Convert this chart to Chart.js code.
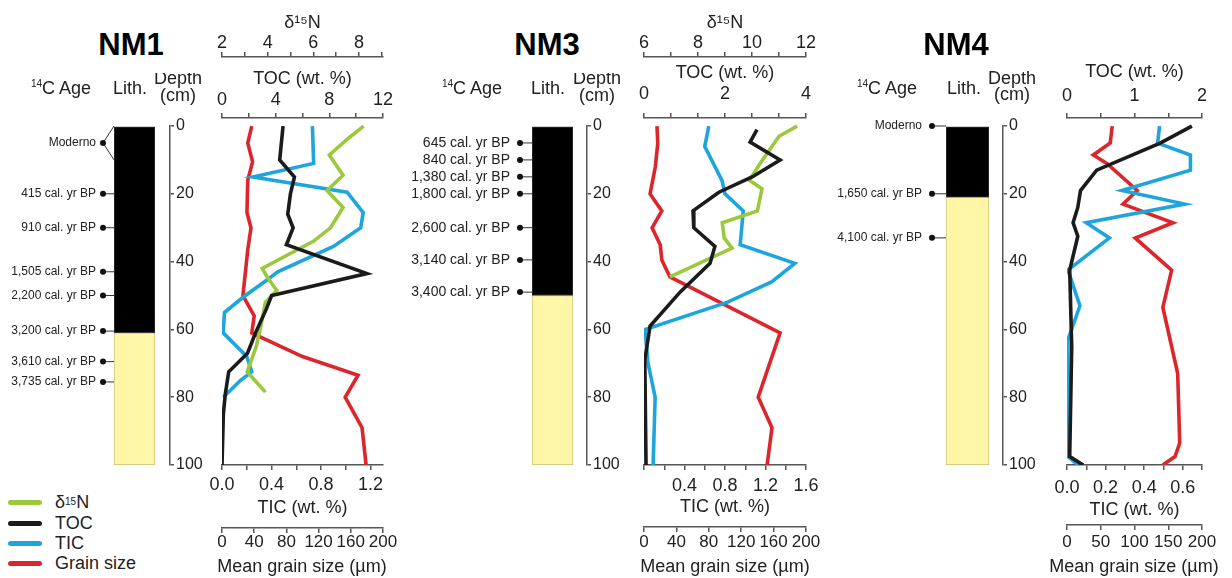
<!DOCTYPE html>
<html>
<head>
<meta charset="utf-8">
<title>NM1, NM3, NM4 sediment cores</title>
<script src="https://cdn.jsdelivr.net/npm/chart.js@4.4.1/dist/chart.umd.min.js"></script>
<style>
  html, body { margin: 0; padding: 0; background: #fff; }
  body { position: relative; width: 1232px; height: 578px; overflow: hidden;
         font-family: "Liberation Sans", Arial, sans-serif; color: #222; }
  canvas { position: absolute; top: 0; z-index: 1; }
  .t { position: absolute; transform: translate(-50%, -50%); white-space: nowrap; font-size: 18px; line-height: 1; z-index: 2; }
  .t sup, .key sup { font-size: 10px; vertical-align: 7px; line-height: 0; }
  .core { font-weight: bold; font-size: 31px; z-index: 4; color: #000; }
  .depth { text-align: center; line-height: 17px; }
  .mask { position: absolute; top: 0; height: 73px; background: #fff; z-index: 3; }
  .key { position: absolute; left: 8px; transform: translateY(-50%); font-size: 18px; line-height: 1;
         display: flex; align-items: center; white-space: nowrap; }
  .key i { display: inline-block; width: 34px; height: 5px; border-radius: 2.5px; margin-right: 13px; }
</style>
</head>
<body>

<div class="mask" style="left:70px;width:138px"></div>
<div class="mask" style="left:490px;width:138px"></div>

<div class="t core" style="left:131px;top:44px">NM1</div>
<div class="t core" style="left:547px;top:44px">NM3</div>
<div class="t core" style="left:956px;top:44px">NM4</div>

<div class="t" style="left:61px;top:88px"><sup>14</sup>C Age</div>
<div class="t" style="left:130px;top:88px">Lith.</div>
<div class="t depth" style="left:178px;top:87px">Depth<br>(cm)</div>

<div class="t" style="left:472px;top:88px"><sup>14</sup>C Age</div>
<div class="t" style="left:548px;top:88px">Lith.</div>
<div class="t depth" style="left:597px;top:87px">Depth<br>(cm)</div>

<div class="t" style="left:887px;top:88px"><sup>14</sup>C Age</div>
<div class="t" style="left:964px;top:88px">Lith.</div>
<div class="t depth" style="left:1012px;top:86px;line-height:16px">Depth<br>(cm)</div>

<div class="t" style="left:302px;top:566px">Mean grain size (µm)</div>
<div class="t" style="left:725px;top:566px">Mean grain size (µm)</div>
<div class="t" style="left:1134px;top:566px">Mean grain size (µm)</div>

<div class="key" style="top:502px"><i style="background:#9bc83c"></i>δ<sup>15</sup>N</div>
<div class="key" style="top:523px"><i style="background:#1b1b1b"></i>TOC</div>
<div class="key" style="top:543px"><i style="background:#1ea5dc"></i>TIC</div>
<div class="key" style="top:563px"><i style="background:#dc262c"></i>Grain size</div>

<script>
// ---------- NM1 ----------
const NM1_AGE_DEPTH = [5, 20, 30, 43, 50, 60.5, 69.5, 75.5];
const NM1_AGE_LABEL = ['Moderno', '415 cal. yr BP', '910 cal. yr BP', '1,505 cal. yr BP',
  '2,200 cal. yr BP', '3,200 cal. yr BP', '3,610 cal. yr BP', '3,735 cal. yr BP'];
const NM1_AGE_SPAN = [[0, 10], null, null, null, null, null, null, null];
const NM1_UNIT_TOP = [0, 61];
const NM1_UNIT_BASE = [61, 100];
const NM1_UNIT_KIND = ['organic', 'sand'];

const NM1_D15N_DEPTH = [0, 3.5, 8.5, 14.5, 19, 24, 30, 34, 42, 44.5, 48.5, 52, 59, 65, 72.5, 78.5];
const NM1_D15N = [8.2, 7.55, 6.7, 7.3, 6.6, 7.3, 6.75, 6.0, 3.76, 3.98, 4.4, 3.9, 3.7, 3.5, 3.1, 3.9];
const NM1_TOC_DEPTH = [0, 10, 15, 20, 26, 30, 35, 43.5, 50, 54, 61, 67, 72.5, 79, 85, 100];
const NM1_TOC = [4.55, 4.3, 5.4, 5.1, 4.9, 5.3, 4.8, 10.8, 3.7, 3.3, 2.5, 1.9, 0.5, 0.25, 0.1, 0];
const NM1_TIC_DEPTH = [0, 11, 15, 19.5, 25.5, 30, 35.5, 43, 45.5, 50.5, 55, 61, 68, 72.5, 75, 80];
const NM1_TIC = [0.73, 0.74, 0.25, 1.01, 1.14, 1.12, 0.9, 0.45, 0.36, 0.17, 0.02, 0.01, 0.2, 0.24, 0.15, 0.01];
const NM1_GRAIN_DEPTH = [0, 5, 10.5, 16, 25.5, 30, 36.5, 50, 56, 61, 62.5, 68, 73.5, 80, 89, 100];
const NM1_GRAIN = [37, 32, 38, 32, 31, 36, 32, 26, 40, 37, 50, 100, 169, 153, 174, 179];

const NM1_D15N_TICKS = ['2', '', '4', '', '6', '', '8', ''];
const NM1_TOC_TICKS = ['0', '', '4', '', '8', '', '12'];
const NM1_TIC_TICKS = ['0.0', '', '0.4', '', '0.8', '', '1.2'];
const NM1_GRAIN_TICKS = ['0', '40', '80', '120', '160', '200'];

// ---------- NM3 ----------
const NM3_AGE_DEPTH = [5, 10, 15, 20, 30, 39.5, 49];
const NM3_AGE_LABEL = ['645 cal. yr BP', '840 cal. yr BP', '1,380 cal. yr BP', '1,800 cal. yr BP',
  '2,600 cal. yr BP', '3,140 cal. yr BP', '3,400 cal. yr BP'];
const NM3_AGE_SPAN = [null, null, null, null, null, null, null];
const NM3_UNIT_TOP = [0, 50];
const NM3_UNIT_BASE = [50, 100];
const NM3_UNIT_KIND = ['organic', 'sand'];

const NM3_D15N_DEPTH = [0, 3, 11, 16, 18.5, 25, 28.5, 33, 36, 44.5];
const NM3_D15N = [11.67, 11.0, 10.3, 9.9, 10.37, 10.2, 8.9, 8.97, 9.26, 6.96];
const NM3_TOC_DEPTH = [1, 4.7, 10, 15, 19.5, 25, 30, 35.5, 40.5, 49, 59, 69, 100];
const NM3_TOC = [2.79, 2.62, 3.36, 2.67, 1.85, 1.21, 1.23, 1.75, 1.63, 0.89, 0.15, 0.02, 0.05];
const NM3_TIC_DEPTH = [0, 6, 16, 20, 25, 35, 40.5, 46, 52, 60, 70, 80, 100];
const NM3_TIC = [0.64, 0.6, 0.77, 0.8, 0.98, 0.95, 1.49, 1.26, 0.82, 0.01, 0.04, 0.11, 0.09];
const NM3_GRAIN_DEPTH = [0, 5, 12, 20, 25, 30, 35, 39.5, 44.5, 61, 80, 89, 100];
const NM3_GRAIN = [16, 17, 14, 7.5, 22, 10, 20, 22, 32, 168, 141, 158, 152];

const NM3_D15N_TICKS = ['6', '', '8', '', '10', '', '12'];
const NM3_TOC_TICKS = ['0', '', '', '2', '', '', '4'];
const NM3_TIC_TICKS = ['', '', '0.4', '', '0.8', '', '1.2', '', '1.6'];
const NM3_GRAIN_TICKS = ['0', '40', '80', '120', '160', '200'];

// ---------- NM4 ----------
const NM4_AGE_DEPTH = [0, 20, 33];
const NM4_AGE_LABEL = ['Moderno', '1,650 cal. yr BP', '4,100 cal. yr BP'];
const NM4_AGE_SPAN = [null, null, null];
const NM4_UNIT_TOP = [0, 21];
const NM4_UNIT_BASE = [21, 100];
const NM4_UNIT_KIND = ['organic', 'sand'];

const NM4_TOC_DEPTH = [0, 5, 13, 19, 24, 28.5, 32.5, 42.5, 65, 97.5, 100];
const NM4_TOC = [1.85, 1.38, 0.44, 0.2, 0.16, 0.09, 0.16, 0.04, 0.07, 0.04, 0.24];
const NM4_TIC_DEPTH = [0, 5, 8.5, 13, 19, 23, 28.5, 33, 42.5, 53, 63, 97.5, 100];
const NM4_TIC = [0.48, 0.47, 0.64, 0.64, 0.285, 0.61, 0.1, 0.22, 0.005, 0.067, 0.005, 0.005, 0.057];
const NM4_GRAIN_DEPTH = [0, 5, 8.5, 11, 19, 23, 28.5, 33, 42.5, 53.5, 73, 93.5, 97.5, 100];
const NM4_GRAIN = [67, 64, 39, 59, 104, 83, 157, 101, 155, 142, 164, 167, 160, 142];

const NM4_TOC_TICKS = ['0', '', '1', '', '2'];
const NM4_TIC_TICKS = ['0.0', '', '0.2', '', '0.4', '', '0.6', ''];
const NM4_GRAIN_TICKS = ['0', '50', '100', '150', '200'];

// ---------- styling ----------
const FONT = "'Liberation Sans', Arial, sans-serif";
const INK = '#222';
const AXIS = '#555';
const C_D15N = '#9bc83c';
const C_TOC = '#1b1b1b';
const C_TIC = '#1ea5dc';
const C_GRAIN = '#dc262c';
const UNIT_FILL = { organic: '#000000', sand: '#fff6a8' };
const UNIT_EDGE = { organic: '#3a3a3a', sand: '#c9bd78' };

function makeCanvas(left, width) {
  const c = document.createElement('canvas');
  c.width = width;
  c.height = 578;
  c.style.left = left + 'px';
  document.body.appendChild(c);
  return c;
}

// dots and leader lines between the age labels and the core column
function ageLeaders(depths, spans, dotGap) {
  return {
    id: 'ageLeaders',
    afterDraw(chart) {
      const { ctx, chartArea } = chart;
      const s = chart.scales.ages;
      const x0 = chartArea.left - dotGap;
      ctx.save();
      ctx.strokeStyle = '#333';
      ctx.fillStyle = '#111';
      ctx.lineWidth = 1;
      depths.forEach((d, i) => {
        const y = s.getPixelForValue(d);
        ctx.beginPath();
        if (spans[i]) {
          ctx.moveTo(chartArea.left, s.getPixelForValue(spans[i][0]));
          ctx.lineTo(x0, y);
          ctx.lineTo(chartArea.left, s.getPixelForValue(spans[i][1]));
        } else {
          ctx.moveTo(x0, y);
          ctx.lineTo(chartArea.left, y);
        }
        ctx.stroke();
        ctx.beginPath();
        ctx.arc(x0, y, 3, 0, Math.PI * 2);
        ctx.fill();
      });
      ctx.restore();
    }
  };
}

function coreColumn(o) {
  return new Chart(makeCanvas(o.left, o.width), {
    type: 'bar',
    data: {
      labels: ['Lith.'],
      datasets: o.unitTop.map((top, i) => ({
        data: [[top, o.unitBase[i]]],
        backgroundColor: UNIT_FILL[o.unitKind[i]],
        borderColor: UNIT_EDGE[o.unitKind[i]],
        borderWidth: 1,
        borderSkipped: false,
        grouped: false,
        barPercentage: 1,
        categoryPercentage: 1,
        yAxisID: 'depth'
      }))
    },
    options: {
      responsive: false,
      animation: false,
      events: [],
      layout: { autoPadding: false, padding: { top: 126, bottom: 113, left: 0, right: 0 } },
      plugins: { legend: { display: false }, tooltip: { enabled: false } },
      scales: {
        x: { display: false },
        ages: {
          type: 'linear', position: 'left', min: 0, max: 100, reverse: true,
          afterBuildTicks: s => { s.ticks = o.ageDepth.map(v => ({ value: v })); },
          afterFit: s => { s.width = o.ageWidth; },
          grid: { display: false, drawTicks: false, tickLength: 0 },
          border: { display: false },
          ticks: {
            autoSkip: false, padding: o.labelGap, color: INK,
            font: { family: FONT, size: o.ageFont },
            callback: (v, i) => o.ageLabel[i]
          }
        },
        gap: {
          type: 'linear', position: 'right', weight: 0, min: 0, max: 100,
          grid: { display: false }, border: { display: false }, ticks: { display: false },
          afterFit: s => { s.width = o.gap; }
        },
        depth: {
          type: 'linear', position: 'right', weight: 1, min: 0, max: 100, reverse: true,
          afterFit: s => { s.width = 45; },
          ticks: { stepSize: 20, padding: 2, color: INK, font: { family: FONT, size: 16 } },
          grid: { display: true, drawOnChartArea: false, tickLength: 4, color: AXIS, lineWidth: 1.5 },
          border: { display: true, color: AXIS, width: 1.5 }
        }
      }
    },
    plugins: [ageLeaders(o.ageDepth, o.ageSpan, o.dotGap)]
  });
}

function hAxis(position, weight, min, max, step, labels, title, o) {
  return {
    type: 'linear', position, weight, min, max,
    afterBuildTicks: s => { s.ticks = labels.map((_, i) => ({ value: min + i * step })); },
    afterFit: s => { s.height = o.h; },
    ticks: {
      autoSkip: false, maxRotation: 0, padding: o.tp, color: INK,
      font: { family: FONT, size: o.size || 18, lineHeight: 1 },
      callback: (v, i) => labels[i]
    },
    grid: { display: true, drawOnChartArea: false, drawTicks: true, tickLength: 5, color: AXIS, lineWidth: 1.5 },
    border: { display: true, color: AXIS, width: 1.5 },
    title: {
      display: title !== null, text: title || '', color: INK,
      font: { family: FONT, size: 18, lineHeight: 1 }, padding: o.title
    }
  };
}

function series(label, depth, value, axis, color) {
  return {
    label,
    data: depth.map((d, i) => ({ x: value[i], y: d })),
    xAxisID: axis, yAxisID: 'y',
    showLine: true, borderColor: color, backgroundColor: color,
    borderWidth: 3.6, pointRadius: 0, pointHoverRadius: 0, tension: 0, fill: false
  };
}

function coreProfile(o) {
  const datasets = [series('TOC', o.tocDepth, o.toc, 'toc', C_TOC)];
  if (o.d15n) datasets.push(series('δ15N', o.d15nDepth, o.d15n, 'd15n', C_D15N));
  datasets.push(series('TIC', o.ticDepth, o.tic, 'tic', C_TIC));
  datasets.push(series('Grain size', o.grainDepth, o.grain, 'grain', C_GRAIN));

  // the grain size title is wider than the axis, it is set as page text instead
  const scales = {
    y: { type: 'linear', display: false, min: -2.4, max: 100, reverse: true },
    toc: hAxis('top', 0, 0, o.tocMax, o.tocStep, o.tocTicks, 'TOC (wt. %)', o.tocAxis),
    tic: hAxis('bottom', 0, 0, o.ticMax, o.ticStep, o.ticTicks, 'TIC (wt. %)', o.ticAxis),
    grain: hAxis('bottom', 1, 0, 200, o.grainStep, o.grainTicks, null, o.grainAxis)
  };
  if (o.d15n) {
    scales.d15n = hAxis('top', 1, o.d15nMin, o.d15nMax, 1, o.d15nTicks, 'δ¹⁵N', o.d15nAxis);
  }

  return new Chart(makeCanvas(o.left, o.width), {
    type: 'scatter',
    data: { datasets },
    options: {
      responsive: false,
      animation: false,
      events: [],
      layout: { autoPadding: false, padding: o.padding },
      plugins: { legend: { display: false }, tooltip: { enabled: false } },
      scales
    }
  });
}

// ---------- NM1 ----------
coreColumn({
  left: 0, width: 215, ageWidth: 114, gap: 15, labelGap: 18, dotGap: 11, ageFont: 12,
  ageDepth: NM1_AGE_DEPTH, ageLabel: NM1_AGE_LABEL, ageSpan: NM1_AGE_SPAN,
  unitTop: NM1_UNIT_TOP, unitBase: NM1_UNIT_BASE, unitKind: NM1_UNIT_KIND
});
coreProfile({
  left: 190, width: 230, padding: { top: 0, bottom: 0, left: 32, right: 37 },
  d15nDepth: NM1_D15N_DEPTH, d15n: NM1_D15N, d15nMin: 2, d15nMax: 9.05, d15nTicks: NM1_D15N_TICKS,
  d15nAxis: { h: 57, tp: 0, title: { top: 14, bottom: 0 } },
  tocDepth: NM1_TOC_DEPTH, toc: NM1_TOC, tocMax: 12, tocStep: 2, tocTicks: NM1_TOC_TICKS,
  tocAxis: { h: 61, tp: 4, title: { top: 13, bottom: 0 } },
  ticDepth: NM1_TIC_DEPTH, tic: NM1_TIC, ticMax: 1.3, ticStep: 0.2, ticTicks: NM1_TIC_TICKS,
  ticAxis: { h: 63, tp: 6, title: { top: 0, bottom: 11 } },
  grainDepth: NM1_GRAIN_DEPTH, grain: NM1_GRAIN, grainStep: 40, grainTicks: NM1_GRAIN_TICKS,
  grainAxis: { h: 50, tp: 1, size: 17, title: { top: 0, bottom: 3 } }
});

// ---------- NM3 ----------
coreColumn({
  left: 400, width: 232, ageWidth: 132, gap: 14, labelGap: 22, dotGap: 12, ageFont: 14,
  ageDepth: NM3_AGE_DEPTH, ageLabel: NM3_AGE_LABEL, ageSpan: NM3_AGE_SPAN,
  unitTop: NM3_UNIT_TOP, unitBase: NM3_UNIT_BASE, unitKind: NM3_UNIT_KIND
});
coreProfile({
  left: 612, width: 230, padding: { top: 0, bottom: 0, left: 32, right: 36 },
  d15nDepth: NM3_D15N_DEPTH, d15n: NM3_D15N, d15nMin: 6, d15nMax: 12, d15nTicks: NM3_D15N_TICKS,
  d15nAxis: { h: 57, tp: 0, title: { top: 14, bottom: 0 } },
  tocDepth: NM3_TOC_DEPTH, toc: NM3_TOC, tocMax: 4, tocStep: 2 / 3, tocTicks: NM3_TOC_TICKS,
  tocAxis: { h: 61, tp: 10, title: { top: 7.5, bottom: 0 } },
  ticDepth: NM3_TIC_DEPTH, tic: NM3_TIC, ticMax: 1.6, ticStep: 0.2, ticTicks: NM3_TIC_TICKS,
  ticAxis: { h: 62, tp: 7, title: { top: 0, bottom: 11 } },
  grainDepth: NM3_GRAIN_DEPTH, grain: NM3_GRAIN, grainStep: 40, grainTicks: NM3_GRAIN_TICKS,
  grainAxis: { h: 51, tp: 2, size: 17, title: { top: 0, bottom: 3 } }
});

// ---------- NM4 ----------
coreColumn({
  left: 830, width: 218, ageWidth: 116, gap: 14, labelGap: 24, dotGap: 14, ageFont: 12,
  ageDepth: NM4_AGE_DEPTH, ageLabel: NM4_AGE_LABEL, ageSpan: NM4_AGE_SPAN,
  unitTop: NM4_UNIT_TOP, unitBase: NM4_UNIT_BASE, unitKind: NM4_UNIT_KIND
});
coreProfile({
  left: 1035, width: 197, padding: { top: 57, bottom: 0, left: 32, right: 30 },
  tocDepth: NM4_TOC_DEPTH, toc: NM4_TOC, tocMax: 2, tocStep: 0.5, tocTicks: NM4_TOC_TICKS,
  tocAxis: { h: 61, tp: 7.5, title: { top: 6.5, bottom: 0 } },
  ticDepth: NM4_TIC_DEPTH, tic: NM4_TIC, ticMax: 0.7, ticStep: 0.1, ticTicks: NM4_TIC_TICKS,
  ticAxis: { h: 60, tp: 9, title: { top: 0, bottom: 6 } },
  grainDepth: NM4_GRAIN_DEPTH, grain: NM4_GRAIN, grainStep: 50, grainTicks: NM4_GRAIN_TICKS,
  grainAxis: { h: 53, tp: 4, size: 17, title: { top: 0, bottom: 3 } }
});
</script>
</body>
</html>
